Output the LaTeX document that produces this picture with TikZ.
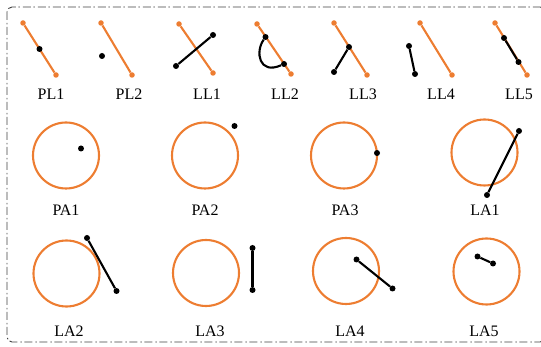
\documentclass[tikz,border=0pt]{standalone}
\usepackage{fontspec}
\setmainfont{Liberation Serif}
\definecolor{orng}{RGB}{237,125,49}

\tikzstyle{odot}=[circle, fill=orng, inner sep=0pt, minimum size=5.5pt]
\tikzstyle{bdot}=[circle, fill=black, inner sep=0pt, minimum size=6pt]
\tikzstyle{oline}=[draw=orng, line width=2.1pt]
\tikzstyle{bline}=[draw=black, line width=2.1pt]
\tikzstyle{ring}=[circle, draw=orng, line width=2.1pt, inner sep=0pt, minimum size=66pt]
\tikzstyle{tag}=[font=\fontsize{16}{18}\selectfont, inner sep=0pt]
\tikzstyle{boxline}=[draw=black!75, line width=0.9pt, dash pattern=on 8pt off 3pt on 1.5pt off 2.5pt, rounded corners=5pt]

\begin{document}
\begin{tikzpicture}[x=1pt, y=-1pt]
      \useasboundingbox (0,0) rectangle (541,347);
      \draw[boxline] (7,7) rectangle (545,342);

      % point / line
      \node[odot] (pl1a) at (23,23) {};
      \node[odot] (pl1b) at (56,75) {};
      \draw[oline] (pl1a) to (pl1b);
      \node[bdot] (pl1p) at (39.5,49) {};
      \node[tag] (tpl1) at (51,94) {PL1};

      \node[odot] (pl2a) at (101,23) {};
      \node[odot] (pl2b) at (132,75) {};
      \draw[oline] (pl2a) to (pl2b);
      \node[bdot] (pl2p) at (102,56) {};
      \node[tag] (tpl2) at (129,94) {PL2};

      % line / line
      \node[odot] (ll1a) at (179,24) {};
      \node[odot] (ll1b) at (213,73) {};
      \draw[oline] (ll1a) to (ll1b);
      \node[bdot] (ll1c) at (176,66) {};
      \node[bdot] (ll1d) at (213,35) {};
      \draw[bline] (ll1c) to (ll1d);
      \node[tag] (tll1) at (207,94) {LL1};

      \node[odot] (ll2a) at (257,24) {};
      \node[odot] (ll2b) at (291,74) {};
      \draw[oline] (ll2a) to (ll2b);
      \node[bdot] (ll2c) at (265.5,37) {};
      \node[bdot] (ll2d) at (284,64) {};
      \draw[bline] (ll2c) .. controls (255,52) and (259,75) .. (ll2d);
      \node[tag] (tll2) at (285,94) {LL2};

      \node[odot] (ll3a) at (334,23) {};
      \node[odot] (ll3b) at (367,75) {};
      \draw[oline] (ll3a) to (ll3b);
      \node[bdot] (ll3c) at (334,72) {};
      \node[bdot] (ll3d) at (349,47) {};
      \draw[bline] (ll3c) to (ll3d);
      \node[tag] (tll3) at (363,94) {LL3};

      \node[odot] (ll4a) at (420,23) {};
      \node[odot] (ll4b) at (452,75) {};
      \draw[oline] (ll4a) to (ll4b);
      \node[bdot] (ll4c) at (409,46) {};
      \node[bdot] (ll4d) at (415,74) {};
      \draw[bline] (ll4c) to (ll4d);
      \node[tag] (tll4) at (441,94) {LL4};

      \node[odot] (ll5a) at (495,23) {};
      \node[odot] (ll5b) at (527,75) {};
      \draw[oline] (ll5a) to (ll5b);
      \node[bdot] (ll5c) at (504,38) {};
      \node[bdot] (ll5d) at (518.5,62) {};
      \draw[bline] (ll5c) to (ll5d);
      \node[tag] (tll5) at (519,94) {LL5};

      % point / circle
      \node[ring] (pa1) at (66,155.5) {};
      \node[bdot] (pa1p) at (81,148.5) {};
      \node[tag] (tpa1) at (66,210) {PA1};

      \node[ring] (pa2) at (205,155.5) {};
      \node[bdot] (pa2p) at (234.5,126) {};
      \node[tag] (tpa2) at (205,210) {PA2};

      \node[ring] (pa3) at (344,155.5) {};
      \node[bdot] (pa3p) at (377,153) {};
      \node[tag] (tpa3) at (345,210) {PA3};

      % line / circle
      \node[ring] (la1) at (484.5,152.5) {};
      \node[bdot] (la1c) at (487,195) {};
      \node[bdot] (la1d) at (519,131) {};
      \draw[bline] (la1c) to (la1d);
      \node[tag] (tla1) at (485,210) {LA1};

      \node[ring] (la2) at (66.5,273.5) {};
      \node[bdot] (la2c) at (87,238) {};
      \node[bdot] (la2d) at (116.5,291) {};
      \draw[bline] (la2c) to (la2d);
      \node[tag] (tla2) at (69,331.5) {LA2};

      \node[ring] (la3) at (206,273) {};
      \node[bdot] (la3c) at (252.5,248) {};
      \node[bdot] (la3d) at (252.5,290) {};
      \draw[bline] (la3c) to (la3d);
      \node[tag] (tla3) at (210,331.5) {LA3};

      \node[ring] (la4) at (346,271) {};
      \node[bdot] (la4c) at (356.5,259.5) {};
      \node[bdot] (la4d) at (392.5,288.5) {};
      \draw[bline] (la4c) to (la4d);
      \node[tag] (tla4) at (350,331.5) {LA4};

      \node[ring] (la5) at (486.5,271.5) {};
      \node[bdot] (la5c) at (477.5,256.5) {};
      \node[bdot] (la5d) at (493,263.5) {};
      \draw[bline] (la5c) to (la5d);
      \node[tag] (tla5) at (484,331.5) {LA5};
\end{tikzpicture}
\end{document}
